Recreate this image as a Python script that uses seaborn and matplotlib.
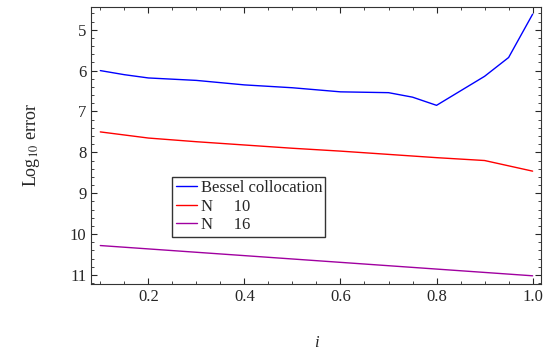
import seaborn as sns
import matplotlib.pyplot as plt
import pandas as pd
from matplotlib.ticker import MultipleLocator

# values
bessel_x = [0.1, 0.15, 0.2, 0.3, 0.4, 0.5, 0.6, 0.7, 0.75, 0.8, 0.9, 0.95, 1.0]
bessel_y = [6.0, 6.1, 6.18, 6.24, 6.35, 6.42, 6.52, 6.54, 6.65, 6.85, 6.14, 5.68, 4.62]
n10_x = [0.1, 0.2, 0.3, 0.4, 0.5, 0.6, 0.7, 0.8, 0.9, 1.0]
n10_y = [7.5, 7.65, 7.74, 7.82, 7.9, 7.97, 8.05, 8.13, 8.2, 8.46]
n16_x = [0.1, 1.0]
n16_y = [10.28, 11.02]

labels = ["Bessel collocation", "N     10", "N     16"]
colors = ["#0000ff", "#ff0000", "#a000a0"]

df = pd.concat([
    pd.DataFrame({"x": bessel_x, "y": bessel_y, "series": labels[0]}),
    pd.DataFrame({"x": n10_x, "y": n10_y, "series": labels[1]}),
    pd.DataFrame({"x": n16_x, "y": n16_y, "series": labels[2]}),
])

sns.set_style("ticks")
plt.rcParams["font.family"] = ["Liberation Serif", "DejaVu Serif"]
plt.rcParams["mathtext.fontset"] = "stix"

fig = plt.figure(figsize=(5.5, 3.59), dpi=100)
ax = fig.add_axes([0.166, 0.209, 0.817, 0.772])

sns.lineplot(data=df, x="x", y="y", hue="series", palette=colors,
             hue_order=labels, linewidth=1, ax=ax, sort=False)

ax.set_xlim(0.0813, 1.0167)
ax.set_ylim(11.22, 4.44)
ax.xaxis.set_major_locator(MultipleLocator(0.2))
ax.xaxis.set_minor_locator(MultipleLocator(0.05))
ax.yaxis.set_major_locator(MultipleLocator(1))
ax.yaxis.set_minor_locator(MultipleLocator(0.2))
ax.tick_params(which="both", direction="in", top=True, right=True, labelsize=12)
ax.tick_params(which="major", length=4)
ax.tick_params(which="minor", length=2)
ax.set_xticks([0.2, 0.4, 0.6, 0.8, 1.0])
ax.set_xticklabels(["0.2", "0.4", "0.6", "0.8", "1.0"])
for s in ax.spines.values():
    s.set_linewidth(0.8)
    s.set_color("#333333")

ax.set_xlabel("i", fontsize=12, style="italic", labelpad=22)
ax.set_ylabel("Log$_{10}$ error", fontsize=13, labelpad=20)

leg = ax.legend(loc="upper left", bbox_to_anchor=(0.18, 0.386), fontsize=12,
                frameon=True, fancybox=False, edgecolor="black",
                handlelength=1.3, handletextpad=0.2, borderpad=0.2,
                labelspacing=0.15, borderaxespad=0)
leg.get_frame().set_linewidth(1.0)

fig.savefig("out.png", dpi=100)
